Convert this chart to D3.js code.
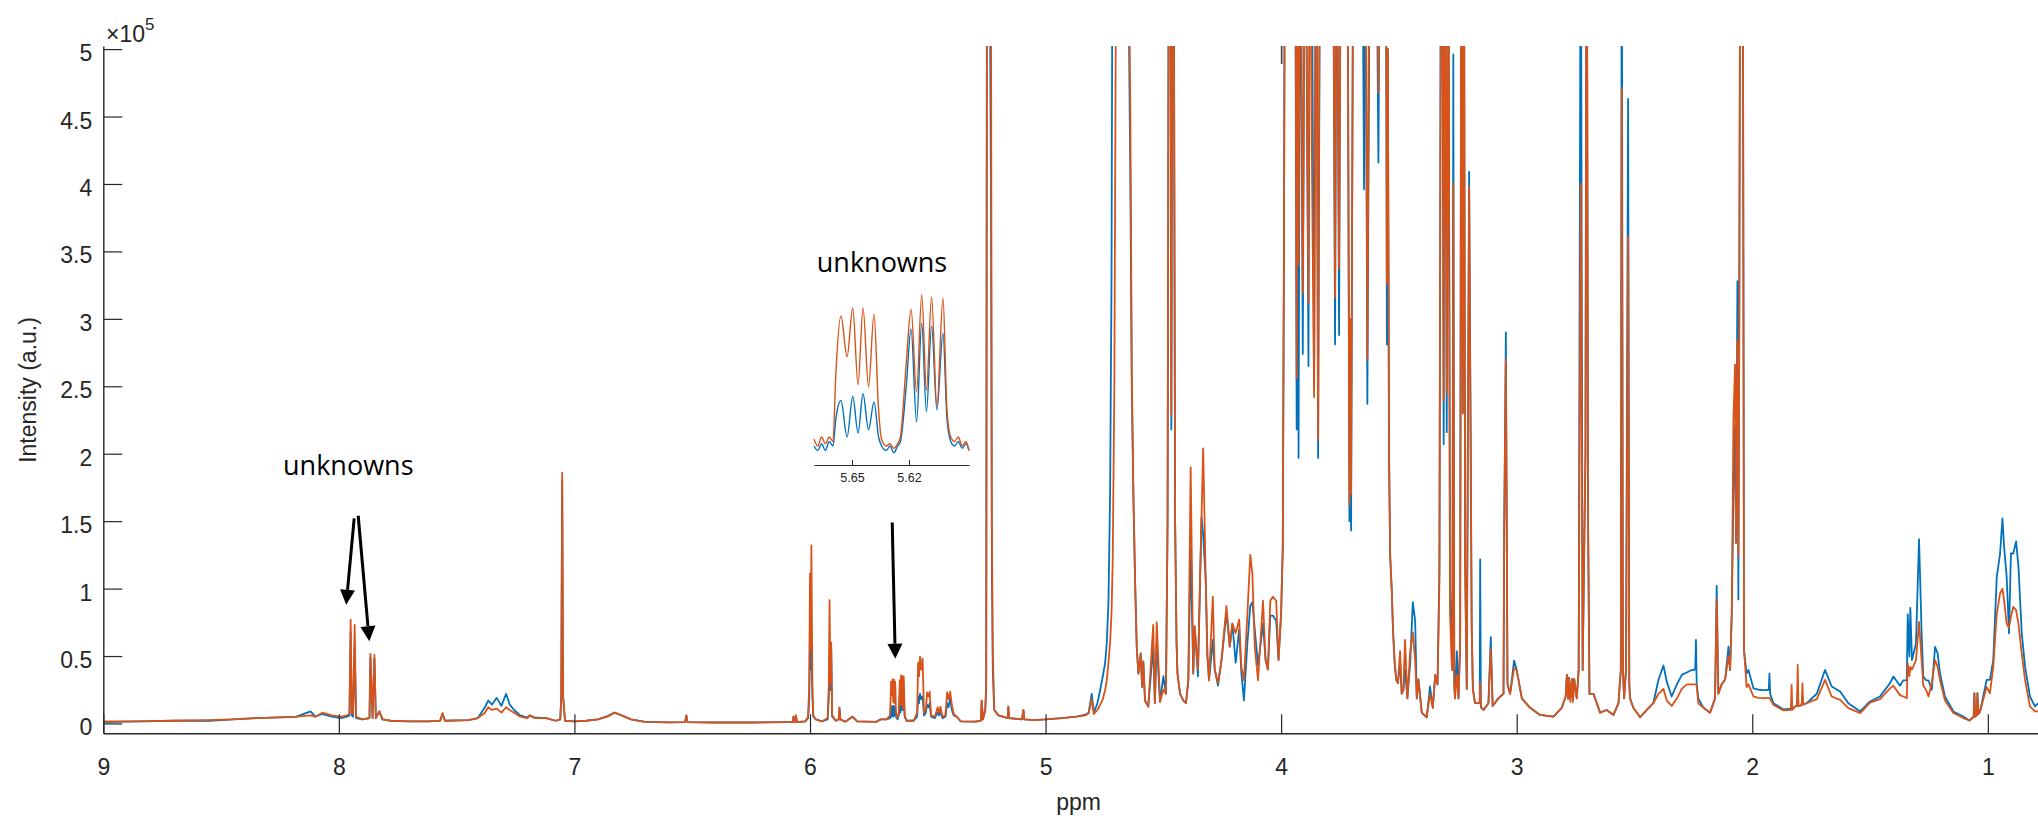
<!DOCTYPE html>
<html><head><meta charset="utf-8">
<script src="https://cdn.jsdelivr.net/npm/d3@7"></script>
<style>body{margin:0;background:#fff}svg{display:block}</style>
</head><body>
<svg id="c" width="2038" height="823"></svg>
<script>
// ---------------- DATA ----------------
const seriesColors = ["#0072BD", "#D95319"];           // blue sample, orange sample
const xTicks = [9, 8, 7, 6, 5, 4, 3, 2, 1];             // ppm
const yTicks = [0, 50, 100, 150, 200, 250, 300, 350, 400, 450, 500]; // intensity, x1e3
const yTickLabels = ["0","0.5","1","1.5","2","2.5","3","3.5","4","4.5","5"];
const topTicks = [4];
const xLabel = "ppm";
const yLabel = "Intensity (a.u.)";
const annotationText = "unknowns";
// [ppm, blue (x1e3), orange (x1e3)]
const spectrum = [
[9.00,1,1.5],[8.85,1.5,1.5],[8.70,2,2],[8.55,2,2.5],[8.45,3,3],[8.35,4,4],[8.25,4.5,4.5],[8.18,5,5],
[8.12,9,6],[8.10,5,5],[8.07,7,8],[8.03,5,6],[7.99,4,5],[7.965,5,6],[7.955,6,7],[7.950,68,77],[7.945,6,8],
[7.940,5,7],[7.933,57,73],[7.927,4,5],[7.90,3,3],[7.87,4,4],[7.866,49,51.5],[7.857,4,4],[7.849,48,50.8],
[7.843,4,4],[7.828,9,9],[7.815,3,3],[7.78,2,2],[7.70,1.5,1.5],[7.62,1.5,1.5],[7.57,2,2],[7.56,7,7.8],[7.55,2,2],
[7.45,2.5,2.5],[7.41,4,4],[7.38,12,8],[7.366,17,12],[7.35,14,10],[7.33,19,11],[7.31,13,8],[7.29,22,12],
[7.275,14,10],[7.256,10,8],[7.23,6,5],[7.20,4.4,3.9],[7.19,6,6],[7.17,4.5,4],[7.12,4,4],[7.08,2,2],[7.06,3,3],
[7.056,20,20],[7.052,180,186],[7.048,20,20],[7.04,2,2],[7.00,1.5,1.5],[6.95,2,2],[6.90,3,3],[6.86,5.5,5],
[6.83,8,8],[6.80,6,6],[6.76,3,3],[6.70,1.2,1.2],[6.60,0.8,0.8],[6.53,1,1],[6.525,6,6],[6.52,1,1],[6.40,0.7,0.7],
[6.25,0.7,0.7],[6.10,1,1],[6.073,1,1],[6.07,5,5],[6.066,1,1],[6.063,1,1],[6.06,6,6],[6.055,1,1],[6.02,1.5,1.5],
[6.008,4,5],[6.003,20,30],[6.000,75,111],[5.997,40,55],[5.994,58,132],[5.990,20,30],[5.986,5,6],[5.975,3,3],
[5.95,1.5,1.5],[5.925,3,4],[5.920,20,30],[5.917,50,91.5],[5.913,25,30],[5.910,56,60],[5.906,5,6],[5.890,2,2],
[5.878,3,3],[5.875,11.7,11.7],[5.871,3,3],[5.85,1.3,1.3],[5.82,5,5],[5.80,1.5,1.5],[5.72,1.2,1.2],[5.70,3,3],
[5.675,3,3],[5.660,4,6],[5.6558,12,31],[5.6526,5,21],[5.6496,13,32.7],[5.6468,5,16],[5.6442,13,32.7],
[5.6413,6,15],[5.6384,12,31],[5.635,5,8],[5.628,3,4],[5.623,6,8],[5.6189,20,32],[5.616,8,14],[5.6133,22,35.6],
[5.6108,10,14],[5.6081,22,35],[5.6053,10,11],[5.6021,20,34.9],[5.598,5,6],[5.59,2,2],
[5.560,2,2],[5.545,5,8],[5.541,20,45],[5.537,15,35],[5.533,22,49.5],[5.528,18,40],[5.522,20,48],[5.516,6,8],
[5.508,8,10],[5.503,14,23],[5.497,12,20],[5.492,15,23.6],[5.486,5,6],[5.470,4,5],[5.458,8,12],[5.452,6,8],
[5.446,9,12.5],[5.438,4,5],[5.425,5,6],[5.418,15,23],[5.412,12,18],[5.405,19,23.6],[5.398,10,14],[5.390,6,7],
[5.377,5,5],[5.360,1.5,1.5],[5.30,1.3,1.3],[5.275,2,2],[5.271,17,17],[5.266,3,3],[5.256,10,10],[5.252,30,25],
[5.248,800,600],[5.244,700,800],[5.238,600,700],[5.232,400,600],[5.228,120,150],[5.224,40,52],[5.218,10,10],
[5.20,6,6],[5.16,4,4],[5.158,12.5,12.5],[5.155,4,4],[5.10,3,3],[5.094,10,10],[5.09,3,3],[5.05,2.5,2.5],
[5.00,3,3],[4.93,4,4],[4.87,5,5],[4.83,6.5,6],[4.817,8,7.5],[4.804,22,18],[4.795,8,7],[4.78,15,10],
[4.768,25,14],[4.757,35,18],[4.747,45,25],[4.74,60,32],[4.733,90,45],[4.726,170,60],[4.720,330,82],
[4.715,650,120],[4.708,900,250],[4.700,900,600],[4.690,800,900],[4.675,700,850],[4.660,650,700],
[4.648,550,600],[4.640,400,450],[4.634,250,260],[4.627,168,168],[4.620,106,106],[4.613,57,57],[4.606,37,37],
[4.596,52,52],[4.590,27,27],[4.585,46,46],[4.578,17,17],[4.564,12.5,12.5],[4.543,57,73],[4.536,15,15],
[4.528,60,75],[4.514,16,16],[4.500,35,25],[4.489,22,22],[4.482,150,150],[4.476,700,700],[4.470,600,650],
[4.466,218,229],[4.461,650,650],[4.456,600,600],[4.450,150,150],[4.444,60,60],[4.440,37,37],[4.429,22,22],
[4.415,17,17],[4.404,15,15],[4.394,32,32],[4.384,129,190],[4.373,37,37],[4.367,72,72],[4.353,35,40],
[4.338,153,153],[4.331,140,204],[4.320,106,106],[4.313,50,50],[4.306,32,32],[4.290,62,94],[4.282,40,40],
[4.268,28,30],[4.253,47,47],[4.232,82,87],[4.218,57,57],[4.207,74,74],[4.193,45,67],[4.178,70,77],
[4.169,38,42],[4.158,17,32],[4.143,60,82],[4.131,87,125],[4.122,90,111],[4.112,70,57],[4.098,43,32],
[4.077,74,91],[4.066,47,47],[4.056,40,40],[4.046,80,91],[4.035,80,94],[4.021,76,91],[4.011,47,47],
[4.000,82,82],[3.993,131,131],[3.988,350,350],[3.983,700,700],[3.970,650,700],[3.955,700,650],
[3.941,650,700],[3.934,218,256],[3.930,600,650],[3.926,197,340],[3.919,650,700],[3.908,274,319],
[3.898,700,650],[3.884,265,312],[3.877,650,700],[3.870,600,430],[3.860,249,242],[3.851,700,650],
[3.843,197,211],[3.834,650,700],[3.815,700,650],[3.795,650,700],[3.782,700,700],[3.771,281,316],
[3.764,650,650],[3.754,288,337],[3.745,700,650],[3.730,650,700],[3.718,600,600],[3.710,150,162],
[3.706,250,300],[3.703,143,170],[3.693,650,650],[3.675,700,650],[3.655,600,700],[3.648,396,560],
[3.642,650,650],[3.634,237,270],[3.622,650,700],[3.600,700,650],[3.587,416,468],[3.580,650,700],
[3.565,700,650],[3.556,650,700],[3.551,281,326],[3.547,500,500],[3.542,200,200],[3.537,124,124],
[3.530,97,97],[3.525,69,69],[3.518,45,45],[3.511,32,32],[3.504,30,30],[3.495,45,53.6],[3.488,22,22],
[3.481,25,25],[3.474,40,62],[3.464,18.6,18.6],[3.452,45,53.6],[3.441,90,67.5],[3.431,76,46.6],
[3.424,18.6,18.6],[3.417,32.6,32.6],[3.403,8,8],[3.382,4.6,4.6],[3.368,27.4,22],[3.356,11.6,11.6],
[3.346,36,36],[3.336,29,29],[3.328,116.5,106],[3.321,650,650],[3.316,600,650],[3.310,207,239],
[3.304,650,650],[3.297,216,245],[3.290,600,650],[3.283,102,81.5],[3.276,60,45],[3.273,39.6,39.6],
[3.269,496,400],[3.265,30,30],[3.262,18.6,18.6],[3.254,53.6,36],[3.247,18.6,18.6],[3.240,60,60],
[3.235,650,650],[3.229,230,230],[3.224,650,650],[3.219,120,120],[3.212,25.6,25.6],[3.202,409,398],
[3.195,207,183],[3.191,71,71],[3.186,25.6,25.6],[3.177,15,15],[3.157,15,15],[3.155,121.7,30.8],
[3.152,12,12],[3.141,10,10],[3.120,15,15],[3.110,64,55],[3.102,13,13],[3.078,18.6,18.6],[3.056,22,22],
[3.053,144,144],[3.046,290,270],[3.039,29,29],[3.028,22,22],[3.011,46.6,41],[3.000,39.6,39.6],
[2.978,18.6,18.6],[2.943,11.6,11.6],[2.901,6.3,6.3],[2.844,5,5],[2.809,11.6,11.6],[2.792,20,20],
[2.787,36,36],[2.782,20,18],[2.778,34,34],[2.772,18,16],[2.766,33,33],[2.761,18,16],[2.756,33,33],
[2.745,18.6,18.6],[2.737,40,40],[2.728,650,400],[2.720,39.6,39.6],[2.708,200,200],[2.703,700,700],
[2.697,150,150],[2.691,22,22],[2.674,22,22],[2.646,8,8],[2.618,10,10],[2.589,6.3,6.3],[2.568,15,15],
[2.558,40,40],[2.554,650,471],[2.549,40,40],[2.544,18.6,18.6],[2.536,39.6,39.6],[2.527,463,361],
[2.522,30,30],[2.519,18.6,18.6],[2.505,11.6,11.6],[2.476,4.6,4.6],[2.448,10,10],[2.420,15,15],
[2.398,32.6,22],[2.377,43,25.6],[2.363,31,17],[2.342,20,13],[2.320,29,18.6],[2.299,36,25.6],
[2.278,37.8,29],[2.257,39.6,29],[2.242,40,29],[2.239,62,29],[2.236,30,28],[2.229,18.6,15],
[2.207,11.6,11.6],[2.179,8,8],[2.158,18.6,18.6],[2.151,102,92],[2.144,22,22],[2.130,29,29],
[2.115,32.6,32.6],[2.101,57,50],[2.094,39.6,39.6],[2.087,81.5,81.5],[2.080,169,225],[2.073,221,266],
[2.069,134,134],[2.063,328,284],[2.059,92,124],[2.055,326,284],[2.050,700,700],[2.045,800,800],
[2.040,600,600],[2.035,54,54.6],[2.024,37,27],[2.016,39.6,29],[1.995,26,20],[1.974,25,19],
[1.953,24.7,18.8],[1.930,25,19],[1.927,37,19],[1.924,22,18],[1.910,15,13.8],[1.868,10.5,9.7],
[1.836,11,10],[1.833,15,28.6],[1.830,11,10],[1.818,12.6,12.6],[1.810,13,13],[1.807,25,43.4],
[1.804,13,13],[1.797,13,13],[1.790,14,14],[1.787,20,29.9],[1.784,14,14],[1.769,15,15],[1.726,22,18],
[1.691,39.7,32.3],[1.663,27.4,20],[1.627,23.7,17.5],[1.592,15,11.4],[1.542,8.9,7.7],[1.500,16.3,15.5],
[1.458,20,18],[1.415,29.9,26],[1.401,34.8,28],[1.373,28,21],[1.359,32,20],[1.344,32,18.8],
[1.340,80.8,44.7],[1.333,49.6,35],[1.329,85.7,42],[1.322,47,40],[1.305,59.4,47],[1.292,136.6,75.3],
[1.281,66.9,47],[1.274,34.8,28],[1.262,32,25],[1.252,32,20],[1.238,25,30],[1.224,56.8,47],
[1.213,52,42],[1.203,37,32],[1.182,20,17],[1.146,8.9,7.7],[1.104,5.2,4],[1.078,2.2,2.2],[1.060,5,5],
[1.057,22.4,22.4],[1.054,5,5],[1.047,6,6],[1.044,22.4,22.4],[1.040,7,7],[1.033,8.9,8.9],
[1.005,32.3,27],[0.991,32.3,22.4],[0.977,47,42],[0.962,108.7,81.5],[0.948,126,96.4],[0.938,152,100],
[0.931,131,91.5],[0.920,108.7,74],[0.910,66.9,71],[0.902,126,79],[0.892,126,86.5],[0.880,135,84],
[0.870,116.4,74],[0.856,67,52],[0.842,42.2,32.3],[0.821,20,12.6],[0.800,12.6,8.9],[0.786,15,8.9]
];
// inset (zoom of 5.67-5.59 ppm): [ppm, blue (x1e3), orange (x1e3)]
const insetRows = [
[5.670,2,3.5],[5.668,1,2],[5.666,2.5,4],[5.664,1,2.5],[5.662,3,4],[5.660,2,3],[5.6585,8,18],
[5.6558,12.1,30.9],[5.6526,4,21.8],[5.6496,13,32.7],[5.6468,4.9,15.6],[5.6442,13.6,32.7],
[5.6413,5.6,15.1],[5.6384,11.8,31.3],[5.636,4,10],[5.6344,2,3.5],[5.632,1,2],[5.630,2,2.5],
[5.628,0.5,1.5],[5.626,2,2.5],[5.6245,3,4],[5.6215,15,20],[5.6189,28,32.4],[5.616,7.3,14],
[5.6133,29.3,35.6],[5.6108,9.6,14.4],[5.6081,28.7,35.1],[5.6053,10,10.7],[5.6021,27.1,34.9],
[5.600,8,10],[5.598,3,4],[5.596,2,3],[5.594,3,4],[5.592,1.5,2],[5.590,2.5,3],[5.5884,1,1]
];
const insetTicks = [5.65, 5.62];
// arrows: [ppm start, int start, ppm tip, int tip] (x1e3)
const arrows = [[7.935,152,7.969,88],[7.918,154,7.871,61],[5.651,149,5.638,48]];
// text annotations: [ppm centre, intensity baseline (x1e3)]
const textAnn = [[7.96,184]];

// ---------------- LAYOUT ----------------
const plot = {left:103.3, right:2038, top:46, bottom:733.3};
const inset = {left:814, right:969, top:293, base:455, axis:465, labelX:882, labelY:272};
const ink = "#262626";
const tickFont = "'Liberation Sans', Arial, Helvetica, sans-serif";
const annFont = "'Open Sans','Noto Sans',sans-serif";

const svg = d3.select("#c");
const x = d3.scaleLinear().domain([9, 0.787]).range([plot.left, plot.right]);
const y = d3.scaleLinear().domain([-7.3, 502.3]).range([plot.bottom, plot.top]);

svg.append("defs").append("clipPath").attr("id","clipMain").append("rect")
  .attr("x", plot.left).attr("y", plot.top)
  .attr("width", plot.right - plot.left).attr("height", plot.bottom - plot.top);

const rows = spectrum.slice().sort((a,b)=>b[0]-a[0]);
const gData = svg.append("g").attr("clip-path","url(#clipMain)");
[1,2].forEach((k,i)=>{
  gData.append("path").datum(rows)
    .attr("fill","none").attr("stroke",seriesColors[i]).attr("stroke-width",1.8)
    .attr("stroke-linejoin","round")
    .attr("d", d3.line().x(d=>x(d[0])).y(d=>y(d[k])));
});

// axes
const gx = svg.append("g").attr("transform",`translate(0,${plot.bottom})`)
  .call(d3.axisBottom(x).tickValues(xTicks).tickSizeInner(-19).tickSizeOuter(0).tickFormat(d3.format("d")));
gx.select(".domain").attr("stroke",ink).attr("stroke-width",1.4);
gx.selectAll(".tick line").attr("stroke",ink).attr("stroke-width",1.2);
gx.selectAll(".tick text").attr("fill",ink).attr("font-family",tickFont).attr("font-size",23)
  .attr("y",42).attr("dy",null);

const gy = svg.append("g").attr("transform",`translate(${plot.left},0)`)
  .call(d3.axisLeft(y).tickValues(yTicks).tickSizeInner(-19).tickSizeOuter(0)
        .tickFormat((d,i)=>yTickLabels[i]));
gy.select(".domain").attr("stroke",ink).attr("stroke-width",1.4);
gy.selectAll(".tick line").attr("stroke",ink).attr("stroke-width",1.2);
gy.selectAll(".tick text").attr("fill",ink).attr("font-family",tickFont).attr("font-size",23)
  .attr("x",-11).attr("dy",null).attr("y",11.5);

const gt = svg.append("g").attr("transform",`translate(0,${plot.top})`)
  .call(d3.axisTop(x).tickValues(topTicks).tickSizeInner(-18).tickSizeOuter(0).tickFormat(""));
gt.select(".domain").remove();
gt.selectAll(".tick line").attr("stroke","#404040").attr("stroke-width",1.6);

// exponent
const ex = svg.append("text").attr("x",106).attr("y",42).attr("fill",ink)
  .attr("font-family",tickFont).attr("font-size",23);
ex.append("tspan").text("\u00d710");
ex.append("tspan").attr("dy",-12).attr("font-size",17).text("5");

// axis labels
svg.append("text").attr("x", x(5.0)+33).attr("y",810).attr("text-anchor","middle")
  .attr("fill",ink).attr("font-family",tickFont).attr("font-size",23).text(xLabel);
svg.append("text").attr("transform","translate(36,390) rotate(-90)").attr("text-anchor","middle")
  .attr("fill",ink).attr("font-family",tickFont).attr("font-size",23).text(yLabel);

// annotations
textAnn.forEach(t=>{
  svg.append("text").attr("x",x(t[0])).attr("y",y(t[1])).attr("text-anchor","middle")
    .attr("font-family",annFont).attr("font-size",27).attr("fill","#000").text(annotationText);
});
const gA = svg.append("g");
arrows.forEach(a=>{
  const x0=x(a[0]), y0=y(a[1]), x1=x(a[2]), y1=y(a[3]);
  const dx=x1-x0, dy=y1-y0, L=Math.hypot(dx,dy), ux=dx/L, uy=dy/L;
  const hl=15, hw=7.5;
  const bx=x1-ux*hl, by=y1-uy*hl;
  gA.append("line").attr("x1",x0).attr("y1",y0).attr("x2",bx).attr("y2",by)
    .attr("stroke","#000").attr("stroke-width",3);
  gA.append("path").attr("fill","#000")
    .attr("d",`M${x1},${y1}L${bx-uy*hw},${by+ux*hw}L${bx+uy*hw},${by-ux*hw}Z`);
});

// inset
const xi = d3.scaleLinear().domain([5.67, 5.5884]).range([inset.left, inset.right]);
const yi = d3.scaleLinear().domain([0, 36]).range([inset.base, inset.top]);
const gI = svg.append("g");
[1,2].forEach((k,i)=>{
  gI.append("path").datum(insetRows)
    .attr("fill","none").attr("stroke",seriesColors[i]).attr("stroke-width",1.4)
    .attr("d", d3.line().curve(d3.curveMonotoneX).x(d=>xi(d[0])).y(d=>yi(d[k])));
});
const gix = svg.append("g").attr("transform",`translate(0,${inset.axis})`)
  .call(d3.axisBottom(xi).tickValues(insetTicks).tickSizeInner(-5).tickSizeOuter(0).tickFormat(d3.format(".2f")));
gix.select(".domain").attr("stroke",ink).attr("stroke-width",1);
gix.selectAll(".tick line").attr("stroke",ink);
gix.selectAll(".tick text").attr("fill",ink).attr("font-family",tickFont).attr("font-size",12.5)
  .attr("y",17).attr("dy",null);
svg.append("text").attr("x",inset.labelX).attr("y",inset.labelY).attr("text-anchor","middle")
  .attr("font-family",annFont).attr("font-size",27).attr("fill","#000").text(annotationText);
</script>
</body></html>
